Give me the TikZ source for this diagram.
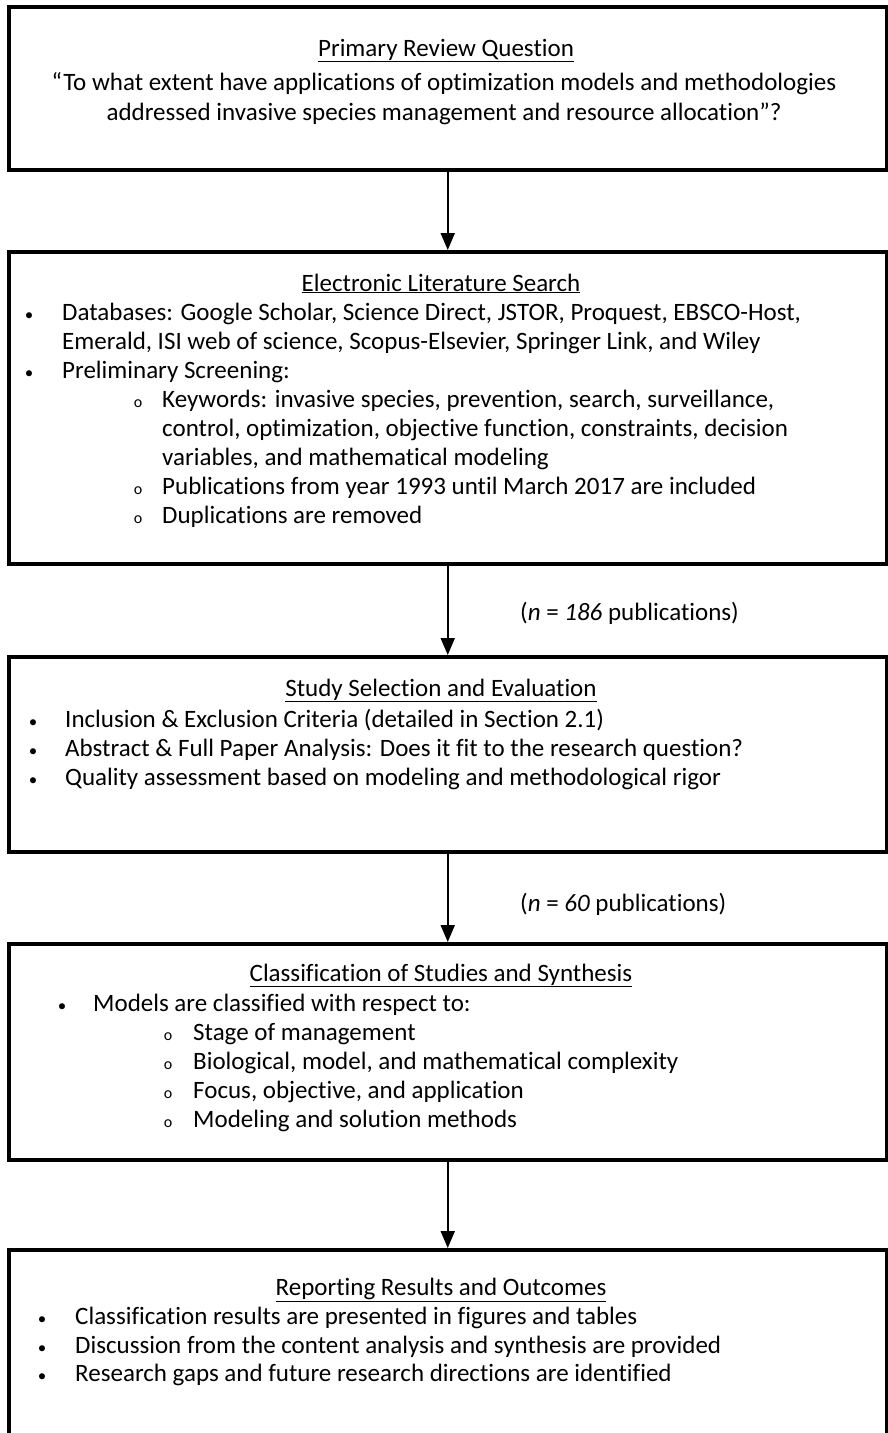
\documentclass[tikz,border=0pt]{standalone}
\usepackage{fontspec}
\setmainfont{Carlito}[Ligatures=NoCommon]
\usetikzlibrary{positioning, arrows.meta}

\begin{document}
\begin{tikzpicture}[
    x=1pt, y=-1pt,
    box/.style = {rectangle, draw, line width=3.5pt, anchor=north west, inner sep=0pt, minimum width=878pt},
    head/.style = {font=\fontsize{25}{29}\selectfont, inner sep=0pt, anchor=base},
    txt/.style = {font=\fontsize{25}{29}\selectfont, inner sep=0pt, anchor=base west},
    dot/.style = {font=\fontsize{17}{17}\selectfont, inner sep=0pt, anchor=base},
    sub/.style = {font=\fontsize{16}{16}\selectfont, inner sep=0pt, anchor=base},
    arrow/.style = {-{Triangle[length=17pt, width=14pt]}, line width=2pt}
]
    \clip (0,0) rectangle (888,1433);

    % boxes
    \node[box, minimum height=163pt] (Q) at (7,5) {};
    \node[box, minimum height=312pt] (SEARCH) at (7,250) {};
    \node[box, minimum height=195pt] (SELECT) at (7,655) {};
    \node[box, minimum height=216pt] (CLASS) at (7,942) {};
    \node[box, minimum height=210pt] (REPORT) at (7,1248) {};

    % primary question
    \node[head] (Qt) at (446,56) {\underline{Primary Review Question}};
    \node[head] (Q1) at (444,90) {“To what extent have applications of optimization models and methodologies};
    \node[head] (Q2) at (444,120) {addressed invasive species management and resource allocation”?};

    % literature search
    \node[head] (St) at (441,291) {\underline{Electronic Literature Search}};
    \node[dot] (Sd1) at (29,320) {•};
    \node[txt] (S1) at (62,320) {Databases: Google Scholar, Science Direct, JSTOR, Proquest, EBSCO-Host,};
    \node[txt] (S1b) at (62,349) {Emerald, ISI web of science, Scopus-Elsevier, Springer Link, and Wiley};
    \node[dot] (Sd2) at (29,378) {•};
    \node[txt] (S2) at (62,378) {Preliminary Screening:};
    \node[sub] (Ss1) at (138,407) {o};
    \node[txt] (S3) at (162,407) {Keywords: invasive species, prevention, search, surveillance,};
    \node[txt] (S3b) at (162,436) {control, optimization, objective function, constraints, decision};
    \node[txt] (S3c) at (162,465) {variables, and mathematical modeling};
    \node[sub] (Ss2) at (138,494) {o};
    \node[txt] (S4) at (162,494) {Publications from year 1993 until March 2017 are included};
    \node[sub] (Ss3) at (138,523) {o};
    \node[txt] (S5) at (162,523) {Duplications are removed};

    % study selection
    \node[head] (Et) at (441,696) {\underline{Study Selection and Evaluation}};
    \node[dot] (Ed1) at (33,727) {•};
    \node[txt] (E1) at (65,727) {Inclusion \& Exclusion Criteria (detailed in Section 2.1)};
    \node[dot] (Ed2) at (33,756) {•};
    \node[txt] (E2) at (65,756) {Abstract \& Full Paper Analysis: Does it fit to the research question?};
    \node[dot] (Ed3) at (33,785) {•};
    \node[txt] (E3) at (65,785) {Quality assessment based on modeling and methodological rigor};

    % classification
    \node[head] (Ct) at (441,981) {\underline{Classification of Studies and Synthesis}};
    \node[dot] (Cd1) at (62,1011) {•};
    \node[txt] (C1) at (93,1011) {Models are classified with respect to:};
    \node[sub] (Cs1) at (168,1040) {o};
    \node[txt] (C2) at (193,1040) {Stage of management};
    \node[sub] (Cs2) at (168,1069) {o};
    \node[txt] (C3) at (193,1069) {Biological, model, and mathematical complexity};
    \node[sub] (Cs3) at (168,1098) {o};
    \node[txt] (C4) at (193,1098) {Focus, objective, and application};
    \node[sub] (Cs4) at (168,1127) {o};
    \node[txt] (C5) at (193,1127) {Modeling and solution methods};

    % reporting
    \node[head] (Rt) at (441,1295) {\underline{Reporting Results and Outcomes}};
    \node[dot] (Rd1) at (42,1324) {•};
    \node[txt] (R1) at (75,1324) {Classification results are presented in figures and tables};
    \node[dot] (Rd2) at (42,1353) {•};
    \node[txt] (R2) at (75,1353) {Discussion from the content analysis and synthesis are provided};
    \node[dot] (Rd3) at (42,1381) {•};
    \node[txt] (R3) at (75,1381) {Research gaps and future research directions are identified};

    % counts
    \node[txt] (N1) at (520,620) {(\textit{n} = \textit{186} publications)};
    \node[txt] (N2) at (520,911) {(\textit{n} = \textit{60} publications)};

    \draw[arrow] (Q) -- (SEARCH);
    \draw[arrow] (SEARCH) -- (SELECT);
    \draw[arrow] (SELECT) -- (CLASS);
    \draw[arrow] (CLASS) -- (REPORT);
\end{tikzpicture}
\end{document}
